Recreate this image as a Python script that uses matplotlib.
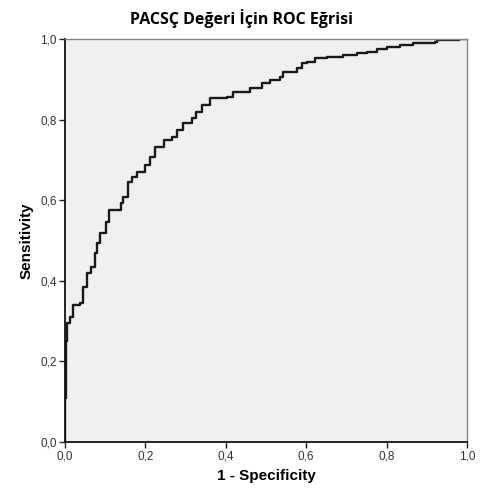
import matplotlib.pyplot as plt

# ROC curve vertices (1 - specificity, sensitivity)
fpr = [0.0, 0.0, 0.003, 0.006, 0.012, 0.019, 0.037, 0.044, 0.054, 0.064,
       0.075, 0.079, 0.087, 0.102, 0.110, 0.139, 0.145, 0.157, 0.166, 0.178,
       0.200, 0.211, 0.224, 0.245, 0.265, 0.278, 0.294, 0.315, 0.325, 0.340,
       0.361, 0.402, 0.419, 0.460, 0.489, 0.510, 0.535, 0.543, 0.576, 0.589,
       0.601, 0.622, 0.651, 0.692, 0.726, 0.750, 0.775, 0.800, 0.833, 0.866,
       0.920, 0.925, 0.980, 1.0]
tpr = [0.0, 0.110, 0.250, 0.296, 0.310, 0.340, 0.345, 0.385, 0.420, 0.435,
       0.470, 0.494, 0.519, 0.547, 0.576, 0.593, 0.609, 0.646, 0.658, 0.671,
       0.687, 0.708, 0.733, 0.749, 0.758, 0.774, 0.791, 0.803, 0.820, 0.836,
       0.853, 0.857, 0.869, 0.878, 0.890, 0.898, 0.906, 0.919, 0.927, 0.940,
       0.944, 0.952, 0.956, 0.960, 0.965, 0.969, 0.975, 0.980, 0.985, 0.989,
       0.992, 0.997, 1.0, 1.0]

ticks = [0.0, 0.2, 0.4, 0.6, 0.8, 1.0]
tick_labels = ['0,0', '0,2', '0,4', '0,6', '0,8', '1,0']

fig = plt.figure(figsize=(4.83, 4.98), dpi=100)
ax = fig.add_axes([0.1346, 0.1124, 0.8324, 0.8092])
ax.set_facecolor('#f0f0f0')

ax.plot(fpr, tpr, drawstyle='steps-post', color='#1a1a1a', linewidth=1.7)

ax.set_xlim(0, 1)
ax.set_ylim(0, 1)
ax.set_xticks(ticks)
ax.set_yticks(ticks)
ax.set_xticklabels(tick_labels, fontsize=8.5, family='Liberation Sans', color='#333333')
ax.set_yticklabels(tick_labels, fontsize=8.5, family='Liberation Sans', color='#333333')
ax.tick_params(direction='out', length=4, width=1, color='#222222', pad=2)

for side in ['left', 'bottom']:
    ax.spines[side].set_color('#111111')
    ax.spines[side].set_linewidth(1.3)
for side in ['top', 'right']:
    ax.spines[side].set_color('#888888')
    ax.spines[side].set_linewidth(1.0)

ax.set_xlabel('1 - Specificity', fontsize=11, fontweight='bold',
              family='Liberation Sans', labelpad=5)
ax.set_ylabel('Sensitivity', fontsize=11, fontweight='bold',
              family='Liberation Sans', labelpad=5)

fig.text(0.5, 0.963, 'PACSÇ Değeri İçin ROC Eğrisi', ha='center', va='center',
         fontsize=11.5, fontweight='bold', family='Open Sans')

fig.savefig('out.png', dpi=100)
